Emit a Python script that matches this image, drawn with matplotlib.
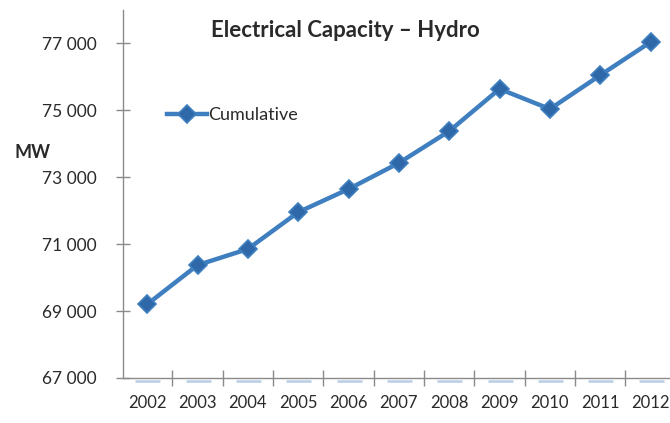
import matplotlib.pyplot as plt
import matplotlib.transforms as mtransforms
from matplotlib.ticker import FuncFormatter, FixedLocator

plt.rcParams['font.family'] = ['Lato', 'DejaVu Sans']

years = ['2002', '2003', '2004', '2005', '2006', '2007',
         '2008', '2009', '2010', '2011', '2012']
cumulative_mw = [69200, 70370, 70850, 71950, 72640, 73420,
                 74370, 75630, 75030, 76040, 77030]
yticks = [67000, 69000, 71000, 73000, 75000, 77000]

line_color = '#3f7fc0'
marker_color = '#2f68a8'
text_color = '#2a2a2a'

fig = plt.figure(figsize=(6.7, 4.23), dpi=100)
ax = fig.add_axes([0.1836, 0.1064, 0.825, 0.871])

x = list(range(len(years)))
ax.plot(x, cumulative_mw, color=line_color, lw=3.2, marker='D', ms=9,
        mfc=marker_color, mec=line_color, mew=1.2, label='Cumulative',
        zorder=3)

# faint bars sitting on the category axis
shift = mtransforms.ScaledTranslation(0, -2 / 72, fig.dpi_scale_trans)
ax.plot(x, [yticks[0]] * len(x), ls='none', marker='_', ms=18, mew=1.8,
        color='#b9cde6', transform=ax.transData + shift, clip_on=False,
        zorder=2)

ax.set_xlim(-0.48, 10.5)
ax.set_ylim(67000, 78000)

ax.set_yticks(yticks)
ax.yaxis.set_major_formatter(
    FuncFormatter(lambda v, p: f'{int(v):,}'.replace(',', ' ')))
ax.xaxis.set_major_locator(FixedLocator([i + 0.5 for i in x[:-1]]))
ax.set_xticks(x, minor=True)
ax.set_xticklabels(years, minor=True)
ax.tick_params(axis='x', which='major', direction='inout', length=12,
               width=1, color='#8a8a8a', labelbottom=False)
ax.tick_params(axis='x', which='minor', length=0, pad=12,
               labelsize=12, labelcolor=text_color)
ax.tick_params(axis='y', direction='inout', length=10, width=1,
               color='#8a8a8a', pad=14, labelsize=12.5,
               labelcolor=text_color)

for side in ('top', 'right'):
    ax.spines[side].set_visible(False)
for side in ('left', 'bottom'):
    ax.spines[side].set_color('#8a8a8a')
    ax.spines[side].set_linewidth(1)

fig.text(0.515, 0.928, 'Electrical Capacity \u2013 Hydro', ha='center',
         va='center', fontsize=16, fontweight='bold', color=text_color)
fig.text(0.022, 0.64, 'MW', ha='left', va='center', fontsize=13,
         fontweight='bold', color=text_color)

ax.legend(loc='upper left', bbox_to_anchor=(0.05, 0.78), frameon=False,
          fontsize=13, handlelength=2.2, handletextpad=0.1,
          labelcolor=text_color)

fig.savefig('out.png', dpi=100)
